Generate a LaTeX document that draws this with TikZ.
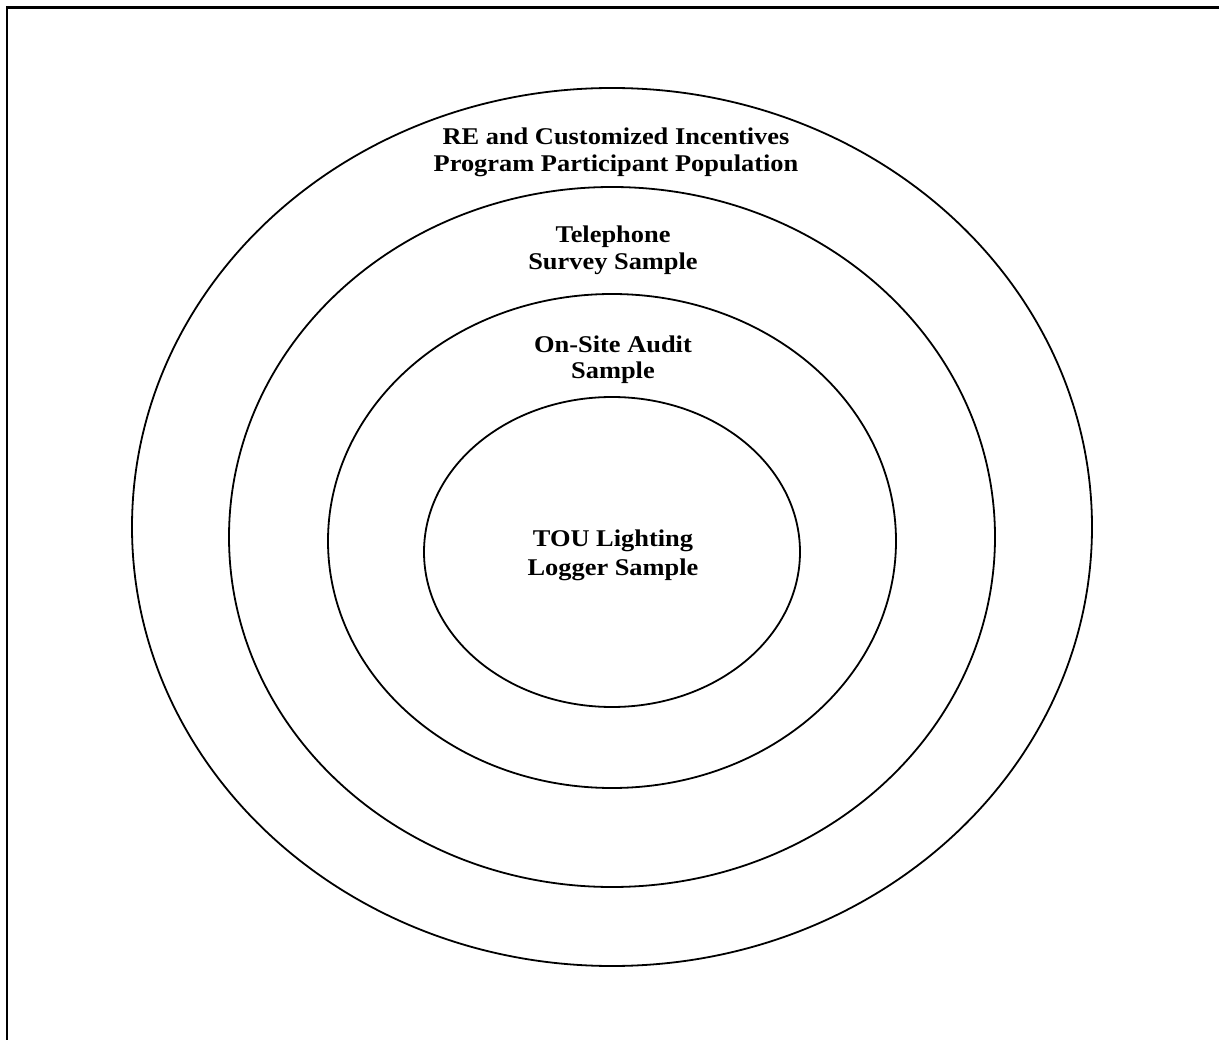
\documentclass[tikz,border=0pt]{standalone}
\usepackage{fontspec}
\setmainfont{Liberation Serif}[FakeStretch=1.1]
\usetikzlibrary{shapes.geometric}
\begin{document}
\begin{tikzpicture}[x=1pt,y=-1pt,
  ring/.style={draw=black, line width=1.8pt, ellipse, inner sep=0pt, outer sep=0pt},
  lbl/.style={anchor=base, inner sep=0pt, font=\fontsize{24}{27}\selectfont\bfseries},
  frame/.style={draw=black, line width=2.5pt}]
\useasboundingbox (0,0) rectangle (1219,1040);
% frame (only top and left edges visible)
\coordinate (fbl) at (7.2,1045);
\coordinate (ftl) at (7.2,7.6);
\coordinate (ftr) at (1225,7.6);
\draw[frame] (fbl) -- (ftl) -- (ftr);
% rings
\node[ring, minimum width=960pt, minimum height=878pt] (e1) at (612,527) {};
\node[ring, minimum width=766pt, minimum height=700pt] (e2) at (612,537) {};
\node[ring, minimum width=568pt, minimum height=494pt] (e3) at (612,541) {};
\node[ring, minimum width=376pt, minimum height=310pt] (e4) at (612,552) {};
% labels
\node[lbl] (t1a) at (616,145) {RE and Customized Incentives};
\node[lbl] (t1b) at (616,172) {Program Participant Population};
\node[lbl] (t2a) at (613,243) {Telephone};
\node[lbl] (t2b) at (613,270) {Survey Sample};
\node[lbl] (t3a) at (613,353) {On-Site Audit};
\node[lbl] (t3b) at (613,379) {Sample};
\node[lbl] (t4a) at (613,547) {TOU Lighting};
\node[lbl] (t4b) at (613,575) {Logger Sample};
\end{tikzpicture}
\end{document}
